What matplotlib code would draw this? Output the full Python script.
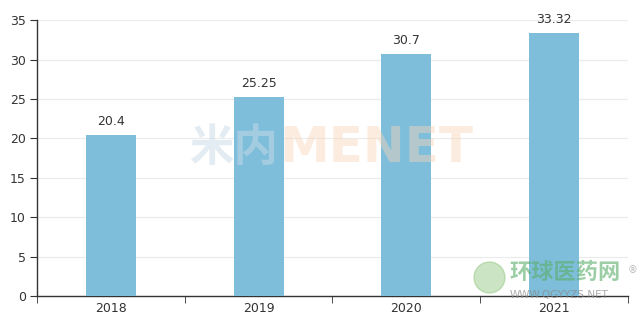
import matplotlib.pyplot as plt
import numpy as np

years = ['2018', '2019', '2020', '2021']
values = [20.4, 25.25, 30.7, 33.32]
value_labels = ['20.4', '25.25', '30.7', '33.32']

plt.rcParams['font.family'] = ['DejaVu Sans']

fig = plt.figure(figsize=(6.4, 3.23), dpi=100)
ax = fig.add_axes([0.058, 0.0836, 0.923, 0.854])

x = np.arange(len(years))
ax.bar(x, values, width=0.34, color='#7ebedb', zorder=3)
for xi, v, lab in zip(x, values, value_labels):
    ax.text(xi, v + 0.9, lab, ha='center', va='bottom', fontsize=9, color='#333333', zorder=4)

ax.set_xlim(-0.5, len(years) - 0.5)
ax.set_ylim(0, 35)
ax.set_yticks(np.arange(0, 36, 5))
ax.set_xticks(x)
ax.set_xticklabels(years)
ax.set_xticks(np.arange(-0.5, len(years), 1), minor=True)
ax.tick_params(axis='x', which='major', length=0, labelsize=9, colors='#333333', pad=4)
ax.tick_params(axis='x', which='minor', length=5, color='#333333', direction='out')
ax.tick_params(axis='y', length=5, labelsize=9, colors='#333333', pad=3)
ax.tick_params(axis='y', color='#333333')
ax.grid(axis='y', color='#ebebeb', linewidth=0.8, zorder=0)
for s in ['top', 'right']:
    ax.spines[s].set_visible(False)
for s in ['left', 'bottom']:
    ax.spines[s].set_color('#333333')
    ax.spines[s].set_linewidth(1)

# watermarks
ax.text(0.41, 0.535, '米内', transform=ax.transAxes, fontsize=32, fontweight='bold',
        family=['Noto Sans CJK SC'], color='#c9dbe6', alpha=0.5, ha='right', va='center', zorder=5)
ax.text(0.41, 0.535, 'MENET', transform=ax.transAxes, fontsize=36, fontweight='bold',
        color='#f8d6b8', alpha=0.45, ha='left', va='center', zorder=5)
ax.text(0.80, 0.085, '环球医药网', transform=ax.transAxes, fontsize=16, fontweight='bold',
        family=['Noto Sans CJK SC'], color='#5aae6a', alpha=0.6, ha='left', va='center', zorder=5)
ax.text(0.80, 0.005, 'WWW.QGYYZS.NET', transform=ax.transAxes, fontsize=7.5,
        color='#888888', alpha=0.7, ha='left', va='center', zorder=5)
ax.text(1.0, 0.095, '®', transform=ax.transAxes, fontsize=7, color='#999999', alpha=0.7,
        ha='left', va='center', zorder=5, clip_on=False)
ax.scatter([0.765], [0.07], s=500, transform=ax.transAxes, color='#8cc47a', alpha=0.45, zorder=5, clip_on=False)

fig.savefig('out.png', dpi=100)
